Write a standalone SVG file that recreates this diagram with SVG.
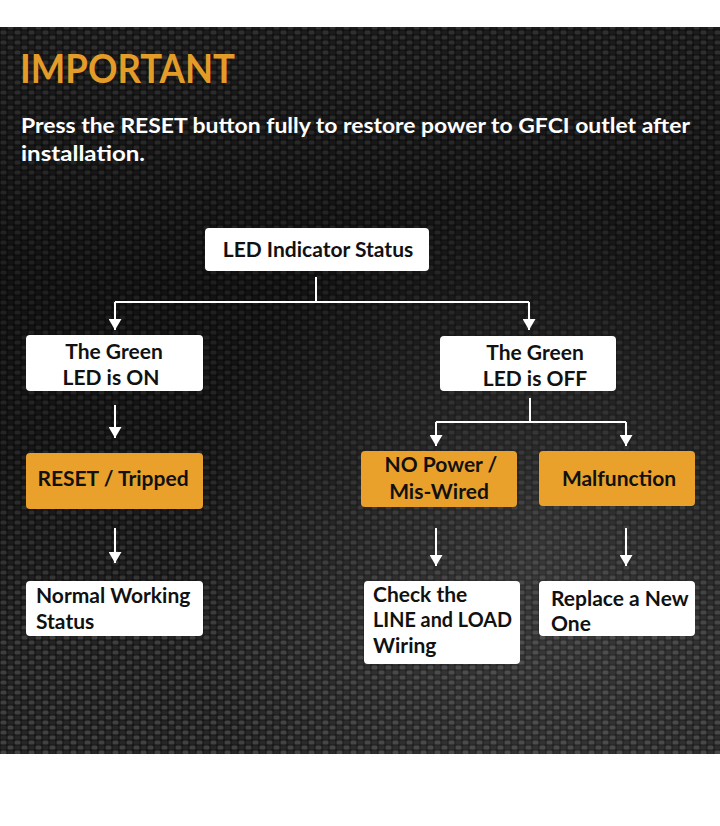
<svg xmlns="http://www.w3.org/2000/svg" width="720" height="826" viewBox="0 0 720 826">
<defs>
<style>
.box{fill:#ffffff}
.obox{fill:#e9a12c}
.t{font-family:Lato,"Open Sans","Liberation Sans",sans-serif;font-weight:bold;font-size:21px;fill:#111111}
.c{text-anchor:middle}
.ln{stroke:#ffffff;stroke-width:2;fill:none}
</style>
<marker id="ah" viewBox="0 0 11 13" refX="11" refY="6.5" markerWidth="11" markerHeight="13" markerUnits="userSpaceOnUse" orient="auto">
<path d="M0,0 L11,6.5 L0,13 Z" fill="#ffffff"/>
</marker>
<pattern id="carbon" width="14" height="10" patternUnits="userSpaceOnUse">
<rect width="14" height="10" fill="#181818"/>
<rect x="0.5" y="0.5" width="6" height="4" rx="1.5" fill="#454545"/>
<rect x="7.5" y="5.5" width="6" height="4" rx="1.5" fill="#454545"/>
<rect x="7.5" y="0.5" width="6" height="4" rx="1.5" fill="#282828"/>
<rect x="0.5" y="5.5" width="6" height="4" rx="1.5" fill="#282828"/>
</pattern>
<linearGradient id="shade" x1="0" y1="0" x2="0" y2="1">
<stop offset="0" stop-color="#000000" stop-opacity="0.3"/>
<stop offset="0.35" stop-color="#000000" stop-opacity="0.55"/>
<stop offset="0.6" stop-color="#000000" stop-opacity="0.45"/>
<stop offset="0.85" stop-color="#000000" stop-opacity="0.1"/>
<stop offset="1" stop-color="#000000" stop-opacity="0.05"/>
</linearGradient>
<radialGradient id="glow" cx="0.75" cy="0.72" r="0.5">
<stop offset="0" stop-color="#ffffff" stop-opacity="0.12"/>
<stop offset="1" stop-color="#ffffff" stop-opacity="0"/>
</radialGradient>
</defs>
<rect width="720" height="826" fill="#ffffff"/>
<g id="background">
<rect x="0" y="27" width="720" height="727" fill="url(#carbon)"/>
<rect x="0" y="27" width="720" height="727" fill="url(#shade)"/>
<rect x="0" y="27" width="720" height="727" fill="url(#glow)"/>
</g>
<g id="header">
<text x="20" y="83" font-family="Lato,'Open Sans','Liberation Sans',sans-serif" font-weight="bold" font-size="40" fill="#e39c28" textLength="215" lengthAdjust="spacingAndGlyphs">IMPORTANT</text>
<text x="21" y="133" font-family="Lato,'Open Sans','Liberation Sans',sans-serif" font-weight="bold" font-size="21" fill="#ffffff" textLength="669" lengthAdjust="spacingAndGlyphs">Press the RESET button fully to restore power to GFCI outlet after</text>
<text x="21" y="161" font-family="Lato,'Open Sans','Liberation Sans',sans-serif" font-weight="bold" font-size="21" fill="#ffffff" textLength="124" lengthAdjust="spacingAndGlyphs">installation.</text>
</g>
<g id="connectors">
<path class="ln" d="M316,277 V302"/>
<path class="ln" d="M115,302 H529"/>
<path class="ln" d="M115,302 V330" marker-end="url(#ah)"/>
<path class="ln" d="M529,302 V330" marker-end="url(#ah)"/>
<path class="ln" d="M115,405 V438" marker-end="url(#ah)"/>
<path class="ln" d="M530,398 V422"/>
<path class="ln" d="M436,422 H626"/>
<path class="ln" d="M436,422 V446" marker-end="url(#ah)"/>
<path class="ln" d="M626,422 V446" marker-end="url(#ah)"/>
<path class="ln" d="M115,528 V563" marker-end="url(#ah)"/>
<path class="ln" d="M436,528 V566" marker-end="url(#ah)"/>
<path class="ln" d="M626,528 V566" marker-end="url(#ah)"/>
</g>
<g id="led-status">
<rect class="box" x="205" y="228" width="224" height="43" rx="4"/>
<text class="t c" x="318" y="257">LED Indicator Status</text>
</g>
<g id="green-on">
<rect class="box" x="26" y="335" width="177" height="56" rx="4"/>
<text class="t c" x="114" y="359">The Green</text>
<text class="t c" x="111" y="385">LED is ON</text>
</g>
<g id="green-off">
<rect class="box" x="440" y="336" width="176" height="55" rx="4"/>
<text class="t c" x="535" y="360">The Green</text>
<text class="t c" x="535" y="386">LED is OFF</text>
</g>
<g id="reset-tripped">
<rect class="obox" x="26" y="453" width="177" height="56" rx="4"/>
<text class="t c" x="113" y="486">RESET / Tripped</text>
</g>
<g id="no-power">
<rect class="obox" x="361" y="451" width="156" height="56" rx="4"/>
<text class="t c" x="441" y="472">NO Power /</text>
<text class="t c" x="439" y="499">Mis-Wired</text>
</g>
<g id="malfunction">
<rect class="obox" x="539" y="451" width="156" height="55" rx="4"/>
<text class="t c" x="619" y="486">Malfunction</text>
</g>
<g id="normal-working">
<rect class="box" x="26" y="581" width="177" height="55" rx="4"/>
<text class="t" x="36" y="603">Normal Working</text>
<text class="t" x="36" y="629">Status</text>
</g>
<g id="check-wiring">
<rect class="box" x="364" y="581" width="156" height="83" rx="4"/>
<text class="t" x="373" y="602">Check the</text>
<text class="t" x="373" y="627" textLength="139" lengthAdjust="spacingAndGlyphs">LINE and LOAD</text>
<text class="t" x="373" y="653">Wiring</text>
</g>
<g id="replace">
<rect class="box" x="539" y="581" width="156" height="55" rx="4"/>
<text class="t" x="551" y="606">Replace a New</text>
<text class="t" x="551" y="631">One</text>
</g>
</svg>
